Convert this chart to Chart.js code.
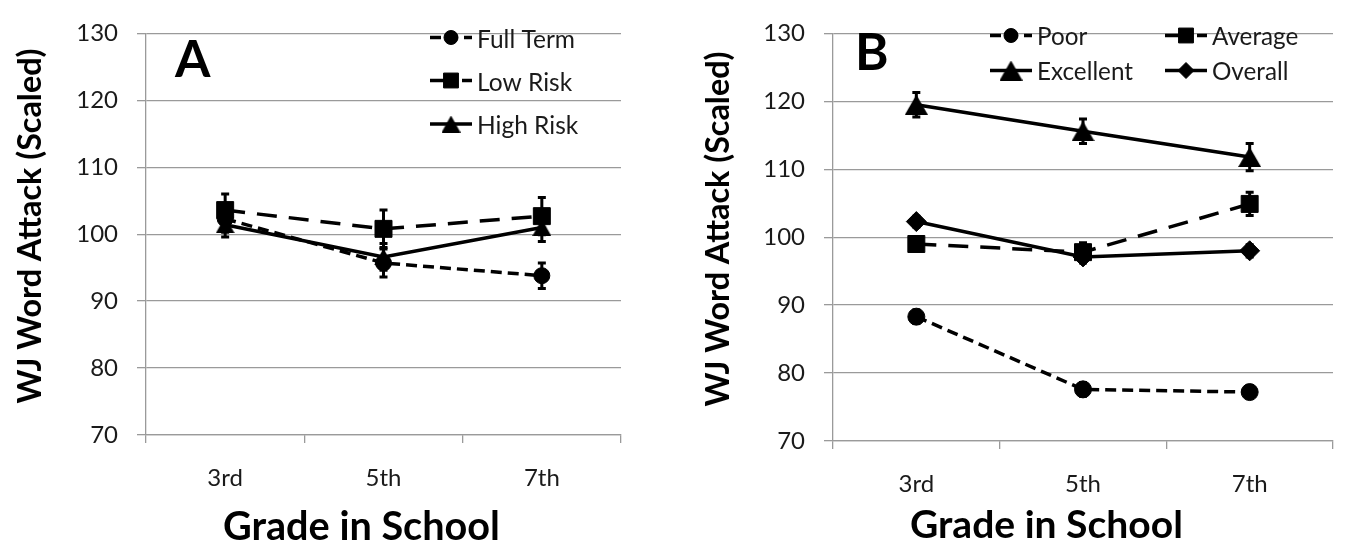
<!DOCTYPE html>
<html><head><meta charset="utf-8">
<script src="https://cdn.jsdelivr.net/npm/chart.js@4/dist/chart.umd.min.js"></script>
<style>
html,body{margin:0;padding:0;background:#fff;}
#wrap{position:relative;width:1346px;height:549px;overflow:hidden;background:#fff;}
#ca{position:absolute;left:0;top:0;}
#cb{position:absolute;left:660px;top:0;}
</style></head><body>
<div id="wrap"><canvas id="ca" width="640" height="549"></canvas><canvas id="cb" width="686" height="549"></canvas></div>
<script>
// ---- data ----
const grades = ['3rd', '5th', '7th'];
const yTicks = [70, 80, 90, 100, 110, 120, 130];
// Panel A
const fullTerm = [102.3, 95.7, 93.8];
const fullTermErr = [2.0, 2.1, 1.9];
const lowRisk = [103.6, 100.8, 102.7];
const lowRiskErr = [2.4, 2.8, 2.8];
const highRisk = [101.4, 96.6, 101.0];
const highRiskErr = [1.8, 2.0, 2.1];
// Panel B
const poor = [88.3, 77.6, 77.2];
const poorErr = [1.0, 1.0, 0.9];
const average = [99.0, 97.8, 104.9];
const averageErr = [1.0, 1.4, 1.7];
const excellent = [119.5, 115.6, 111.8];
const excellentErr = [1.8, 1.8, 2.0];
const overall = [102.3, 97.1, 98.0];
const overallErr = [0.8, 0.9, 0.9];

// ---- styling ----
const FAM = 'Lato';
const GRID = '#9a9a9a';
const TXT = '#1a1a1a';
const shortDash = [11, 6];
const longDash = [20, 12];
const mctx = document.createElement('canvas').getContext('2d');
function fit(text, weight, target) {
  mctx.font = weight + ' 100px ' + FAM;
  return 100 * target / mctx.measureText(text).width;
}
// Excel-like triangle marker, centred in its box
function triangle(w, h) {
  const c = document.createElement('canvas');
  c.width = w; c.height = h;
  const x = c.getContext('2d');
  x.fillStyle = '#000';
  x.beginPath();
  x.moveTo(w / 2, 0); x.lineTo(w, h); x.lineTo(0, h); x.closePath();
  x.fill();
  return c;
}
const triA = triangle(19, 17);
const triB = triangle(23, 20);

function ds(label, data, err, style, radius, dash) {
  return {
    label, data, err, pointStyle: style, pointRadius: radius, pointHoverRadius: radius,
    borderDash: dash, borderColor: '#000', backgroundColor: '#000',
    pointBackgroundColor: '#000', pointBorderColor: '#000', pointBorderWidth: 1,
    borderWidth: 3.5, tension: 0, fill: false
  };
}

const errorBars = {
  id: 'errorBars',
  beforeDatasetsDraw(chart) {
    const ctx = chart.ctx, ys = chart.scales.y;
    ctx.save();
    ctx.strokeStyle = '#000';
    ctx.lineWidth = 3;
    ctx.setLineDash([]);
    chart.data.datasets.forEach((d, i) => {
      chart.getDatasetMeta(i).data.forEach((pt, j) => {
        const v = d.data[j], e = d.err[j];
        const y1 = ys.getPixelForValue(v + e), y2 = ys.getPixelForValue(v - e);
        ctx.beginPath();
        ctx.moveTo(pt.x, y1); ctx.lineTo(pt.x, y2);
        ctx.moveTo(pt.x - 4, y1); ctx.lineTo(pt.x + 4, y1);
        ctx.moveTo(pt.x - 4, y2); ctx.lineTo(pt.x + 4, y2);
        ctx.stroke();
      });
    });
    ctx.restore();
  }
};

function makeDecor(c) {
  return {
    id: 'decor',
    afterDraw(chart) {
      const ctx = chart.ctx;
      ctx.save();
      ctx.textBaseline = 'alphabetic';
      ctx.textAlign = 'left';
      ctx.fillStyle = '#000';
      ctx.font = 'bold ' + c.letter.size + 'px ' + FAM;
      ctx.fillText(c.letter.text, c.letter.x, c.letter.y);
      ctx.font = 'bold ' + c.xTitle.size + 'px ' + FAM;
      ctx.fillText(c.xTitle.text, c.xTitle.x, c.xTitle.y);
      ctx.save();
      ctx.translate(c.yTitle.x, c.yTitle.y);
      ctx.rotate(-Math.PI / 2);
      ctx.textAlign = 'center';
      ctx.font = 'bold ' + c.yTitle.size + 'px ' + FAM;
      ctx.fillText(c.yTitle.text, 0, 0);
      ctx.restore();
      c.legend.forEach(it => {
        const d = chart.data.datasets[it.ds];
        ctx.strokeStyle = '#000';
        ctx.lineWidth = d.borderWidth;
        ctx.setLineDash(d.borderDash || []);
        ctx.beginPath();
        ctx.moveTo(it.x0, it.ly); ctx.lineTo(it.x1, it.ly);
        ctx.stroke();
        ctx.setLineDash([]);
        ctx.lineWidth = 1;
        ctx.fillStyle = '#000';
        Chart.helpers.drawPoint(ctx, {pointStyle: d.pointStyle, radius: it.r, rotation: 0, borderWidth: 1}, (it.x0 + it.x1) / 2, it.ly);
        ctx.fillStyle = TXT;
        ctx.textAlign = 'left';
        ctx.font = c.legendSize + 'px ' + FAM;
        ctx.fillText(d.label, it.tx, it.ty);
      });
      ctx.restore();
    }
  };
}

function makeChart(id, datasets, g, decorCfg) {
  return new Chart(document.getElementById(id), {
    type: 'line',
    data: {labels: grades, datasets},
    options: {
      responsive: false, animation: false, devicePixelRatio: 1,
      layout: {padding: {left: 0, right: g.right, top: g.top, bottom: 0}},
      plugins: {legend: {display: false}, tooltip: {enabled: false}},
      scales: {
        x: {
          type: 'category', offset: true,
          grid: {display: true, drawOnChartArea: false, drawTicks: true, tickLength: 8, offset: true, color: GRID, lineWidth: 1.3},
          border: {display: true, color: GRID, width: 1.3},
          ticks: {font: {family: FAM, size: 24}, color: TXT, padding: 21, maxRotation: 0, autoSkip: false},
          afterFit(s) { s.height = g.xh; }
        },
        y: {
          min: 70, max: 130,
          afterBuildTicks(s) { s.ticks = yTicks.map(v => ({value: v})); },
          grid: {color: GRID, lineWidth: 1.3, tickLength: 9, drawTicks: true},
          border: {display: true, color: GRID, width: 1.3},
          ticks: {font: {family: FAM, size: 24}, color: TXT, padding: 19},
          afterFit(s) { s.width = g.yw; }
        }
      }
    },
    plugins: [errorBars, makeDecor(decorCfg)]
  });
}

const yTitleText = 'WJ Word Attack (Scaled)';
const xTitleText = 'Grade in School';
const ySize = fit(yTitleText, 'bold', 355);

// Panel A
const legA = fit('Full Term', 'normal', 98);
const rowA = [39, 82, 125.5];
makeChart('ca', [
  ds('Full Term', fullTerm, fullTermErr, 'circle', 8, shortDash),
  ds('Low Risk', lowRisk, lowRiskErr, 'rect', 12, longDash),
  ds('High Risk', highRisk, highRiskErr, triA, 10, [])
], {right: 19, top: 18, xh: 114, yw: 146}, {
  letter: {text: 'A', size: 51, x: 175, y: 77},
  xTitle: {text: xTitleText, size: fit(xTitleText, 'bold', 277), x: 223, y: 540},
  yTitle: {text: yTitleText, size: ySize, x: 29 + 0.358 * ySize, y: 226},
  legendSize: legA,
  legend: [0, 1, 2].map(i => ({ds: i, x0: 430, x1: 472, ly: rowA[i] - 1.5, tx: 477, ty: rowA[i] + 0.358 * legA, r: [7, 10.5, 10][i]}))
});

// Panel B
const legB = fit('Excellent', 'normal', 96);
const rowB = [36.5, 71.5];
const colB = [{x0: 330, x1: 372, tx: 377}, {x0: 505, x1: 547, tx: 552}];
makeChart('cb', [
  ds('Poor', poor, poorErr, 'circle', 8.5, shortDash),
  ds('Average', average, averageErr, 'rect', 12, longDash),
  ds('Excellent', excellent, excellentErr, triB, 12, []),
  ds('Overall', overall, overallErr, 'rectRot', 10, [])
], {right: 11, top: 18, xh: 108, yw: 173}, {
  letter: {text: 'B', size: 51, x: 195, y: 70},
  xTitle: {text: xTitleText, size: fit(xTitleText, 'bold', 273), x: 250, y: 538},
  yTitle: {text: yTitleText, size: ySize, x: 57 + 0.358 * ySize, y: 229},
  legendSize: legB,
  legend: [0, 1, 2, 3].map(i => ({ds: i, x0: colB[i % 2].x0, x1: colB[i % 2].x1, tx: colB[i % 2].tx,
    ly: rowB[Math.floor(i / 2)] - 1, ty: rowB[Math.floor(i / 2)] + 0.358 * legB, r: [7, 10.5, 10, 8][i]}))
});
</script>
</body></html>
